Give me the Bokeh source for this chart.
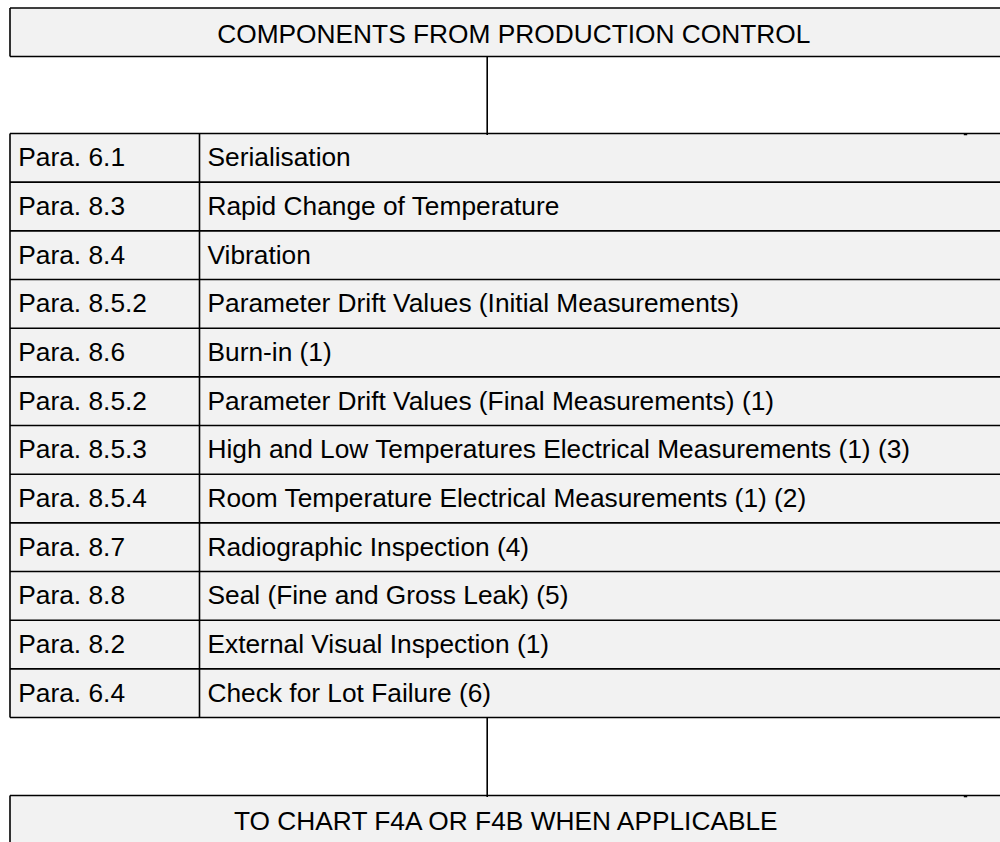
from bokeh.plotting import figure
from bokeh.models import Range1d, ColumnDataSource
from bokeh.embed import file_html
from bokeh.resources import INLINE
from bokeh.core.properties import value

# ---------------- data ----------------
header = "COMPONENTS FROM PRODUCTION CONTROL"
footer = "TO CHART F4A OR F4B WHEN APPLICABLE"
paras = [
    "Para. 6.1", "Para. 8.3", "Para. 8.4", "Para. 8.5.2", "Para. 8.6",
    "Para. 8.5.2", "Para. 8.5.3", "Para. 8.5.4", "Para. 8.7", "Para. 8.8",
    "Para. 8.2", "Para. 6.4",
]
steps = [
    "Serialisation",
    "Rapid Change of Temperature",
    "Vibration",
    "Parameter Drift Values (Initial Measurements)",
    "Burn-in (1)",
    "Parameter Drift Values (Final Measurements) (1)",
    "High and Low Temperatures Electrical Measurements (1) (3)",
    "Room Temperature Electrical Measurements (1) (2)",
    "Radiographic Inspection (4)",
    "Seal (Fine and Gross Leak) (5)",
    "External Visual Inspection (1)",
    "Check for Lot Failure (6)",
]

# ---------------- layout (pixels) ----------------
W, H = 1000, 842
LEFT = 9.5
RIGHT = W + 10
COL = 199.0
HB_TOP, HB_BOT = 7.5, 56.0
TABLE_TOP = 133.0
ROW_H = 48.67
N = len(paras)
TABLE_BOT = TABLE_TOP + N * ROW_H
FB_TOP = 795.0
CONN_X = 486.7
FILL = "#f2f2f2"
LINE = "#000000"
LW = 1.6
FONT = value("Liberation Sans")
FS = "26.3px"
BASE_SHIFT = 9.8   # renderer places alphabetic baseline this much below y

p = figure(width=W, height=H, x_range=Range1d(0, W), y_range=Range1d(H, 0),
           output_backend="svg", toolbar_location=None,
           x_axis_type=None, y_axis_type=None, min_border=0)
p.outline_line_color = None
p.background_fill_color = "white"
p.border_fill_color = "white"

# fills
p.quad(left=[LEFT, LEFT, LEFT], right=[RIGHT, RIGHT, RIGHT],
       top=[HB_TOP, TABLE_TOP, FB_TOP], bottom=[HB_BOT, TABLE_BOT, H + 10],
       fill_color=FILL, line_color=None)

# lines
xs, ys = [], []
def seg(x0, y0, x1, y1):
    xs.append([x0, x1]); ys.append([y0, y1])

# header box
seg(LEFT, HB_TOP, RIGHT, HB_TOP)
seg(LEFT, HB_BOT, RIGHT, HB_BOT)
seg(LEFT, HB_TOP, LEFT, HB_BOT)
# connectors
seg(CONN_X, HB_BOT, CONN_X, TABLE_TOP + 1.5)
seg(CONN_X, TABLE_BOT, CONN_X, FB_TOP + 1.5)
# table
for i in range(N + 1):
    y = TABLE_TOP + i * ROW_H
    seg(LEFT, y, RIGHT, y)
seg(LEFT, TABLE_TOP, LEFT, TABLE_BOT)
seg(COL, TABLE_TOP, COL, TABLE_BOT)
# footer box
seg(LEFT, FB_TOP, RIGHT, FB_TOP)
seg(LEFT, FB_TOP, LEFT, H + 10)
p.multi_line(xs=xs, ys=ys, line_color=LINE, line_width=LW)

# small tick marks under right part of lines
p.quad(left=[963.3, 963.3], right=[966.7, 966.7],
       top=[TABLE_TOP, FB_TOP], bottom=[TABLE_TOP + 1.8, FB_TOP + 1.8],
       fill_color=LINE, line_color=None)

# table texts
row_y = [TABLE_TOP + i * ROW_H + 33.7 - BASE_SHIFT for i in range(N)]
src = ColumnDataSource(dict(para=paras, step=steps, y=row_y,
                            xp=[17.8] * N, xs=[COL + 8.0] * N))
p.text(x="xp", y="y", text="para", source=src, text_font=FONT,
       text_font_size=FS, text_color="#000000", text_baseline="alphabetic",
       text_align="left")
p.text(x="xs", y="y", text="step", source=src, text_font=FONT,
       text_font_size=FS, text_color="#000000", text_baseline="alphabetic",
       text_align="left")

# header/footer texts
p.text(x=[513.3, 507.0], y=[43.3 - BASE_SHIFT, 830.0 - BASE_SHIFT],
       text=[header, footer], text_font=FONT,
       text_font_size=FS, text_color="#000000", text_baseline="alphabetic",
       text_align="center")

open("out.html", "w").write(file_html(p, INLINE))
